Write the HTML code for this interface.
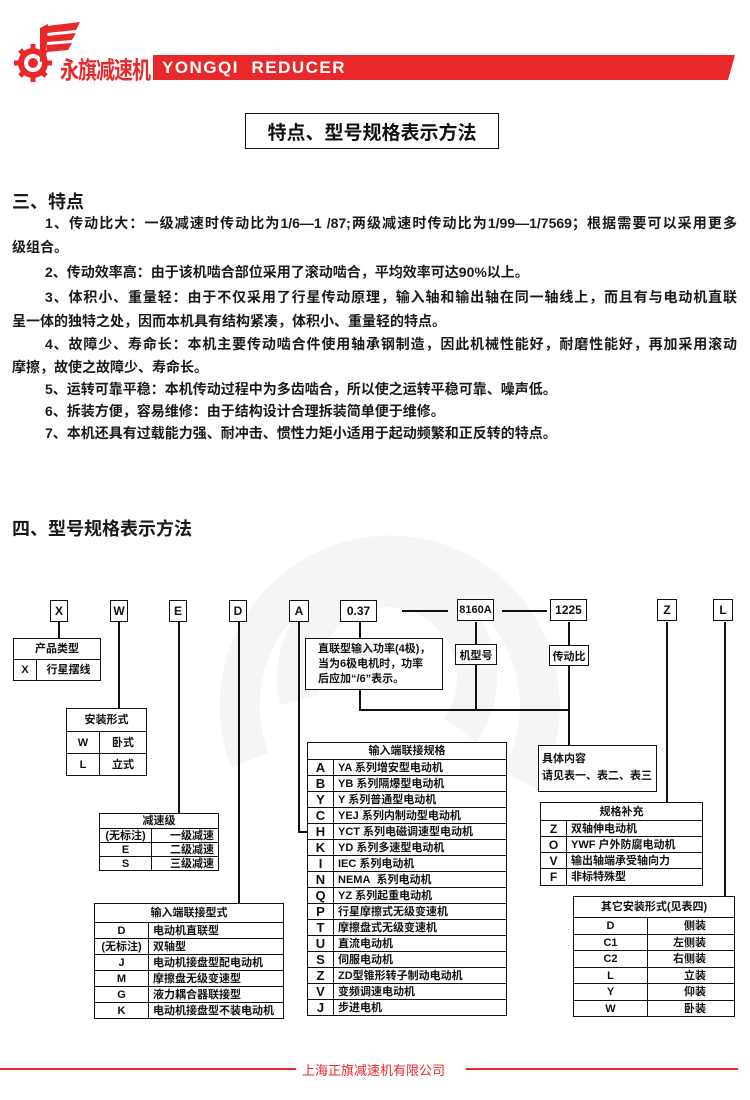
<!DOCTYPE html>
<html><head><meta charset="utf-8">
<style>
*{margin:0;padding:0;box-sizing:border-box}
body{width:750px;height:1100px;background:#fff;position:relative;overflow:hidden;font-family:"Liberation Sans","Noto Sans CJK SC",sans-serif;color:#111}
.a{position:absolute}
.box{position:absolute;border:1.5px solid #111;background:#fff;font-weight:bold;font-size:12px;display:flex;align-items:center;justify-content:center}
.vl{position:absolute;width:1.5px;background:#111}
.hl{position:absolute;height:1.5px;background:#111}
table{position:absolute;border-collapse:collapse;background:#fff;font-weight:bold;font-size:11px;table-layout:fixed}
td{border:1.5px solid #111;padding:0 4px;white-space:nowrap;overflow:hidden;line-height:12px}
td.c{text-align:center}
.p{position:absolute;font-size:14px;font-weight:bold;white-space:nowrap;color:#1a1a1a}
.j{text-align:justify;text-align-last:justify}
</style></head><body>

<svg class="a" style="left:0;top:0" width="750" height="1100">
<g fill="none" stroke="#f5f5f5" stroke-width="40">
<path d="M250 760 A150 150 0 1 1 520 780"/>
<path d="M300 700 A90 90 0 1 1 460 730"/>
</g>
<g fill="#e8282a">
<circle cx="33" cy="63" r="15"/>
<g stroke="#e8282a" stroke-width="5">
<line x1="33" y1="44" x2="33" y2="82"/><line x1="14" y1="63" x2="52" y2="63"/>
<line x1="20" y1="50" x2="46" y2="76"/><line x1="20" y1="76" x2="46" y2="50"/>
</g>
<circle cx="33" cy="63" r="9" fill="#fff"/>
<circle cx="33" cy="63" r="5"/>
<polygon points="40,28 48,24 46,60 40,62"/>
<polygon points="47,26 80,22 76,30 47,33"/>
<polygon points="47,36 76,33 72,40 47,42"/>
<polygon points="47,45 72,43 68,50 47,52"/>
<polygon points="153,55 735,55 728,80 153,80"/>
</g>
</svg>
<div class="a" style="left:60px;top:52px;font-size:19px;font-weight:bold;color:#e8282a;letter-spacing:-1px;font-family:'Noto Sans CJK SC',sans-serif;transform:scaleY(1.25);transform-origin:top left">永旗减速机</div>
<div class="a" style="left:162px;top:58px;font-size:17px;font-weight:bold;color:#fff;letter-spacing:1.5px">YONGQI&nbsp;&nbsp;REDUCER</div>

<div class="box" style="left:245px;top:113px;width:254px;height:36px;font-size:19px">特点、型号规格表示方法</div>

<div class="p" style="left:12px;top:188px;font-size:18px">三、特点</div>
<div class="p j" style="left:45px;top:213px;width:692px">1、传动比大：一级减速时传动比为1/6—1 /87;两级减速时传动比为1/99—1/7569；根据需要可以采用更多</div>
<div class="p" style="left:12px;top:237px">级组合。</div>
<div class="p" style="left:45px;top:262px">2、传动效率高：由于该机啮合部位采用了滚动啮合，平均效率可达90%以上。</div>
<div class="p j" style="left:45px;top:287px;width:692px">3、体积小、重量轻：由于不仅采用了行星传动原理，输入轴和输出轴在同一轴线上，而且有与电动机直联</div>
<div class="p" style="left:12px;top:311px">呈一体的独特之处，因而本机具有结构紧凑，体积小、重量轻的特点。</div>
<div class="p j" style="left:45px;top:334px;width:692px">4、故障少、寿命长：本机主要传动啮合件使用轴承钢制造，因此机械性能好，耐磨性能好，再加采用滚动</div>
<div class="p" style="left:12px;top:357px">摩擦，故使之故障少、寿命长。</div>
<div class="p" style="left:45px;top:379px">5、运转可靠平稳：本机传动过程中为多齿啮合，所以使之运转平稳可靠、噪声低。</div>
<div class="p" style="left:45px;top:401px">6、拆装方便，容易维修：由于结构设计合理拆装简单便于维修。</div>
<div class="p" style="left:45px;top:423px">7、本机还具有过载能力强、耐冲击、惯性力矩小适用于起动频繁和正反转的特点。</div>

<div class="p" style="left:12px;top:515px;font-size:18px">四、型号规格表示方法</div>

<div class="vl" style="left:58px;top:622px;height:17px"></div>
<div class="vl" style="left:118px;top:622px;height:87px"></div>
<div class="vl" style="left:178px;top:622px;height:192px"></div>
<div class="vl" style="left:238px;top:622px;height:282px"></div>
<div class="vl" style="left:298px;top:622px;height:210px"></div>
<div class="hl" style="left:298px;top:831px;width:10px"></div>
<div class="vl" style="left:359px;top:622px;height:17px"></div>
<div class="hl" style="left:402px;top:610px;width:46px"></div>
<div class="hl" style="left:502px;top:610px;width:45px"></div>
<div class="vl" style="left:475px;top:622px;height:88px"></div>
<div class="vl" style="left:568px;top:622px;height:124px"></div>
<div class="vl" style="left:359px;top:689px;height:21px"></div>
<div class="hl" style="left:359px;top:709px;width:210px"></div>
<div class="vl" style="left:666px;top:622px;height:181px"></div>
<div class="vl" style="left:724px;top:622px;height:275px"></div>

<div class="box" style="left:50px;top:600px;width:18px;height:22px">X</div>
<div class="box" style="left:110px;top:600px;width:18px;height:22px">W</div>
<div class="box" style="left:169px;top:600px;width:18px;height:22px">E</div>
<div class="box" style="left:229px;top:600px;width:18px;height:22px">D</div>
<div class="box" style="left:289px;top:600px;width:20px;height:22px">A</div>
<div class="box" style="left:340px;top:600px;width:37px;height:22px">0.37</div>
<div class="box" style="left:457px;top:599px;width:37px;height:22px;font-size:11px">8160A</div>
<div class="box" style="left:550px;top:599px;width:37px;height:22px">1225</div>
<div class="box" style="left:657px;top:599px;width:20px;height:22px">Z</div>
<div class="box" style="left:713px;top:599px;width:20px;height:22px">L</div>

<div class="box" style="left:305px;top:638px;width:138px;height:52px;font-size:11px;line-height:15px;display:block;padding:3px 0 0 12px">直联型输入功率(4极)，<br>当为6极电机时，功率<br>后应加“/6”表示。</div>
<div class="box" style="left:455px;top:644px;width:42px;height:21px;font-size:11px">机型号</div>
<div class="box" style="left:549px;top:645px;width:40px;height:21px;font-size:11px">传动比</div>
<div class="box" style="left:538px;top:745px;width:119px;height:47px;font-size:11px;display:block;padding:5px 0 0 3px;line-height:17px">具体内容<br>请见表一、表二、表三</div>

<table style="left:13px;top:638px;width:88px">
<col style="width:23px"><col>
<tr style="height:21px"><td class="c" colspan="2">产品类型</td></tr>
<tr style="height:21px"><td class="c">X</td><td class="c">行星摆线</td></tr>
</table>

<table style="left:66px;top:708px;width:81px">
<col style="width:33px"><col>
<tr style="height:23px"><td class="c" colspan="2">安装形式</td></tr>
<tr style="height:22px"><td class="c">W</td><td class="c">卧式</td></tr>
<tr style="height:22px"><td class="c">L</td><td class="c">立式</td></tr>
</table>

<table style="left:99px;top:813px;width:120px">
<col style="width:52px"><col>
<tr style="height:15px"><td class="c" colspan="2">减速级</td></tr>
<tr style="height:14px"><td class="c" style="padding:0">(无标注)</td><td style="text-align:right">一级减速</td></tr>
<tr style="height:14px"><td class="c">E</td><td style="text-align:right">二级减速</td></tr>
<tr style="height:14px"><td class="c">S</td><td style="text-align:right">三级减速</td></tr>
</table>

<table style="left:94px;top:903px;width:190px">
<col style="width:54px"><col>
<tr style="height:19px"><td class="c" colspan="2">输入端联接型式</td></tr>
<tr style="height:16px"><td class="c">D</td><td>电动机直联型</td></tr>
<tr style="height:16px"><td class="c" style="padding:0">(无标注)</td><td>双轴型</td></tr>
<tr style="height:16px"><td class="c">J</td><td>电动机接盘型配电动机</td></tr>
<tr style="height:16px"><td class="c">M</td><td>摩擦盘无级变速型</td></tr>
<tr style="height:16px"><td class="c">G</td><td>液力耦合器联接型</td></tr>
<tr style="height:16px"><td class="c">K</td><td>电动机接盘型不装电动机</td></tr>
</table>

<table style="left:307px;top:742px;width:200px">
<col style="width:26px"><col>
<tr style="height:17px"><td class="c" colspan="2">输入端联接规格</td></tr>
<tr style="height:16px"><td class="c" style="font-size:13px">A</td><td>YA 系列增安型电动机</td></tr>
<tr style="height:16px"><td class="c" style="font-size:13px">B</td><td>YB 系列隔爆型电动机</td></tr>
<tr style="height:16px"><td class="c" style="font-size:13px">Y</td><td>Y 系列普通型电动机</td></tr>
<tr style="height:16px"><td class="c" style="font-size:13px">C</td><td>YEJ 系列内制动型电动机</td></tr>
<tr style="height:16px"><td class="c" style="font-size:13px">H</td><td>YCT 系列电磁调速型电动机</td></tr>
<tr style="height:16px"><td class="c" style="font-size:13px">K</td><td>YD 系列多速型电动机</td></tr>
<tr style="height:16px"><td class="c" style="font-size:13px">I</td><td>IEC 系列电动机</td></tr>
<tr style="height:16px"><td class="c" style="font-size:13px">N</td><td>NEMA&nbsp; 系列电动机</td></tr>
<tr style="height:16px"><td class="c" style="font-size:13px">Q</td><td>YZ 系列起重电动机</td></tr>
<tr style="height:16px"><td class="c" style="font-size:13px">P</td><td>行星摩擦式无级变速机</td></tr>
<tr style="height:16px"><td class="c" style="font-size:13px">T</td><td>摩擦盘式无级变速机</td></tr>
<tr style="height:16px"><td class="c" style="font-size:13px">U</td><td>直流电动机</td></tr>
<tr style="height:16px"><td class="c" style="font-size:13px">S</td><td>伺服电动机</td></tr>
<tr style="height:16px"><td class="c" style="font-size:13px">Z</td><td>ZD型锥形转子制动电动机</td></tr>
<tr style="height:16px"><td class="c" style="font-size:13px">V</td><td>变频调速电动机</td></tr>
<tr style="height:16px"><td class="c" style="font-size:13px">J</td><td>步进电机</td></tr>
</table>

<table style="left:540px;top:802px;width:163px">
<col style="width:26px"><col>
<tr style="height:18px"><td class="c" colspan="2">规格补充</td></tr>
<tr style="height:16px"><td class="c" style="font-size:12px">Z</td><td>双轴伸电动机</td></tr>
<tr style="height:16px"><td class="c" style="font-size:12px">O</td><td>YWF 户外防腐电动机</td></tr>
<tr style="height:16px"><td class="c" style="font-size:12px">V</td><td>输出轴端承受轴向力</td></tr>
<tr style="height:17px"><td class="c" style="font-size:12px">F</td><td>非标特殊型</td></tr>
</table>

<table style="left:573px;top:896px;width:162px">
<col style="width:74px"><col>
<tr style="height:21px"><td class="c" colspan="2">其它安装形式(见表四)</td></tr>
<tr style="height:17px"><td class="c">D</td><td style="text-align:right;padding-right:28px">侧装</td></tr>
<tr style="height:16px"><td class="c">C1</td><td style="text-align:right;padding-right:28px">左侧装</td></tr>
<tr style="height:17px"><td class="c">C2</td><td style="text-align:right;padding-right:28px">右侧装</td></tr>
<tr style="height:16px"><td class="c">L</td><td style="text-align:right;padding-right:28px">立装</td></tr>
<tr style="height:17px"><td class="c">Y</td><td style="text-align:right;padding-right:28px">仰装</td></tr>
<tr style="height:16px"><td class="c">W</td><td style="text-align:right;padding-right:28px">卧装</td></tr>
</table>

<div class="a" style="left:0;top:1068px;width:296px;height:2px;background:#e8282a"></div>
<div class="a" style="left:466px;top:1068px;width:272px;height:2px;background:#e8282a"></div>
<div class="a" style="left:302px;top:1060px;font-size:13px;color:#e8282a">上海正旗减速机有限公司</div>
</body></html>
